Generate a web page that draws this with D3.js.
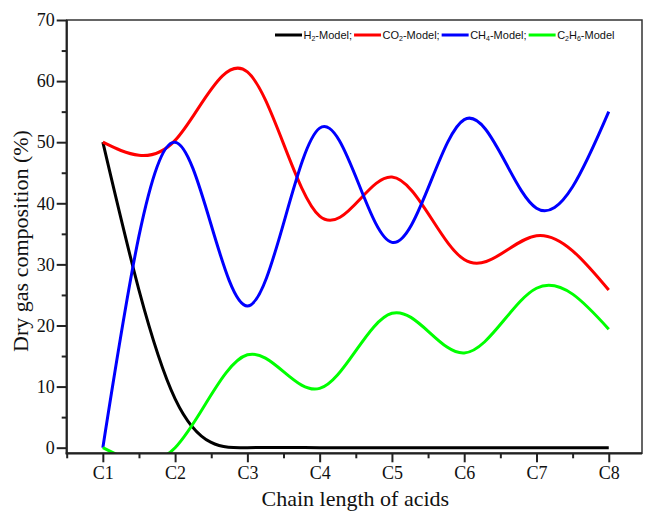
<!DOCTYPE html>
<html>
<head>
<meta charset="utf-8">
<script src="https://cdn.jsdelivr.net/npm/d3@7"></script>
<style>
  body { margin: 0; background: #fff; }
  svg { display: block; }
</style>
</head>
<body>
<svg width="646" height="511"></svg>
<script>
// chain length categories (C1..C8)
var chains = [1, 2, 3, 4, 5, 6, 7, 8];
var chainLabels = ["C1", "C2", "C3", "C4", "C5", "C6", "C7", "C8"];

// model values, % of dry gas
var h2 = [50, 8, 0, 0, 0, 0, 0, 0];
var co2 = [50, 50.3, 61.5, 37.9, 44.3, 30.8, 34.7, 25.8];
var ch4 = [0, 50.0, 23.2, 52.3, 33.6, 53.7, 39.2, 55.0];
var c2h6 = [0, 0, 15.2, 9.7, 22.0, 15.5, 26.1, 19.4];

var seriesNames = ["H2-Model;", "CO2-Model;", "CH4-Model;", "C2H6-Model"];
var seriesColors = ["#000000", "#ff0000", "#0000ff", "#00ff00"];
var seriesValues = [h2, co2, ch4, c2h6];

var yTicks = [0, 10, 20, 30, 40, 50, 60, 70];
var yMinor = [5, 15, 25, 35, 45, 55, 65];
var xMinor = [0.5, 1.5, 2.5, 3.5, 4.5, 5.5, 6.5, 7.5];

var svg = d3.select("svg");

var plotLeft = 66.7, plotRight = 642, plotTop = 20, plotBottom = 453.3;

var x = d3.scaleLinear().domain([0.5, 8.46]).range([plotLeft, plotRight]);
var y = d3.scaleLinear().domain([-0.92, 70]).range([plotBottom, plotTop]);

var serif = "'Liberation Serif', 'Times New Roman', serif";

// clip so curves stop at the frame
svg.append("clipPath").attr("id", "plot")
  .append("rect")
    .attr("x", plotLeft).attr("y", plotTop)
    .attr("width", plotRight - plotLeft).attr("height", plotBottom - plotTop);

var line = d3.line()
    .x(function(d, i) { return x(chains[i]); })
    .y(function(d) { return y(d); })
    .curve(d3.curveNatural);

svg.append("g")
    .attr("clip-path", "url(#plot)")
  .selectAll("path")
    .data(seriesValues)
    .enter()
  .append("path")
    .attr("d", line)
    .attr("fill", "none")
    .attr("stroke", function(d, i) { return seriesColors[i]; })
    .attr("stroke-width", 3)
    .attr("stroke-linejoin", "round");

// frame
svg.append("rect")
    .attr("x", plotLeft).attr("y", plotTop)
    .attr("width", plotRight - plotLeft).attr("height", plotBottom - plotTop)
    .attr("fill", "none")
    .attr("stroke", "#333")
    .attr("stroke-width", 1.5);

// y axis
svg.append("g")
    .attr("transform", "translate(" + plotLeft + ",0)")
    .call(d3.axisLeft(y).tickValues(yTicks).tickSize(10).tickPadding(2));
svg.append("g")
    .attr("transform", "translate(" + plotLeft + ",0)")
    .call(d3.axisLeft(y).tickValues(yMinor).tickSize(5).tickFormat(""));

// x axis
svg.append("g")
    .attr("transform", "translate(0," + plotBottom + ")")
    .call(d3.axisBottom(x).tickValues(chains).tickSize(9).tickPadding(3.5)
      .tickFormat(function(d, i) { return chainLabels[i]; }));
svg.append("g")
    .attr("transform", "translate(0," + plotBottom + ")")
    .call(d3.axisBottom(x).tickValues(xMinor).tickSize(5).tickFormat(""));

svg.selectAll(".domain").remove();
svg.selectAll(".tick line").attr("stroke", "#222").attr("stroke-width", 2);
svg.selectAll(".tick text")
    .attr("fill", "#111")
    .style("font-family", serif)
    .style("font-size", "18px");

// heavier left and bottom axis lines
svg.append("line")
    .attr("x1", plotLeft).attr("x2", plotLeft).attr("y1", plotTop).attr("y2", plotBottom + 1)
    .attr("stroke", "#222").attr("stroke-width", 2.2);
svg.append("line")
    .attr("x1", plotLeft - 1).attr("x2", plotRight).attr("y1", plotBottom).attr("y2", plotBottom)
    .attr("stroke", "#222").attr("stroke-width", 2.2);

// axis titles
svg.append("text")
    .attr("x", (plotLeft + plotRight) / 2 + 1)
    .attr("y", 506)
    .attr("text-anchor", "middle")
    .style("font-family", serif)
    .style("font-size", "22px")
    .attr("fill", "#111")
    .text("Chain length of acids");

svg.append("text")
    .attr("transform", "translate(27.5,241) rotate(-90)")
    .attr("text-anchor", "middle")
    .style("font-family", serif)
    .style("font-size", "22px")
    .attr("fill", "#111")
    .text("Dry gas composition (%)");

// legend, digits shown as subscripts
var legend = svg.append("g").style("font-family", "'Liberation Sans', Arial, sans-serif");
var cx = 275;
seriesNames.forEach(function(name, i) {
  legend.append("line")
      .attr("x1", cx).attr("x2", cx + 27)
      .attr("y1", 35).attr("y2", 35)
      .attr("stroke", seriesColors[i])
      .attr("stroke-width", 3);
  var t = legend.append("text")
      .attr("x", cx + 28.5)
      .attr("y", 39)
      .attr("fill", "#111")
      .style("font-size", "11px");
  var shift = 0;
  name.split(/(\d)/).forEach(function(part) {
    if (part === "") return;
    var isSub = /^\d$/.test(part);
    var dy = (isSub ? 2 : 0) - shift;
    shift = isSub ? 2 : 0;
    t.append("tspan")
        .attr("dy", dy)
        .style("font-size", isSub ? "7px" : null)
        .text(part);
  });
  cx += 28.5 + t.node().getComputedTextLength() + 2;
});
</script>
</body>
</html>
